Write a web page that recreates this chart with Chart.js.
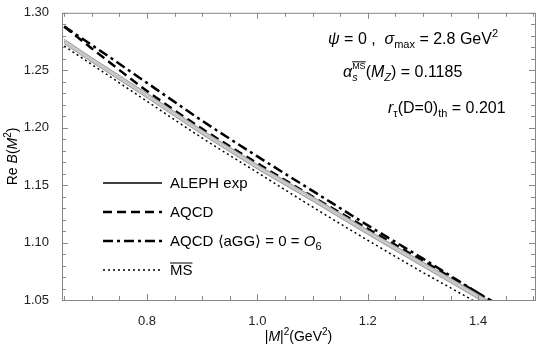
<!DOCTYPE html>
<html>
<head>
<meta charset="utf-8">
<script src="https://cdn.jsdelivr.net/npm/chart.js@4"></script>
<style>
  html, body { margin: 0; padding: 0; background: #fff; }
  #wrap { width: 542px; height: 355px; }
</style>
</head>
<body>
<div id="wrap"><canvas id="reB"></canvas></div>
<script>
// values
const xValues   = [0.65, 0.70, 0.80, 0.90, 1.00, 1.10, 1.20, 1.30, 1.40, 1.50];
const alephExp  = [1.275, 1.259, 1.228, 1.196, 1.166, 1.138, 1.109, 1.081, 1.053, 1.024];
const alephLow  = [1.273, 1.257, 1.226, 1.194, 1.164, 1.136, 1.107, 1.079, 1.051, 1.022];
const alephHigh = [1.277, 1.261, 1.230, 1.198, 1.168, 1.140, 1.111, 1.083, 1.055, 1.026];
const aqcd      = [1.288, 1.269, 1.232, 1.199, 1.169, 1.140, 1.112, 1.084, 1.056, 1.028];
const aqcdO6    = [1.288, 1.272, 1.239, 1.206, 1.175, 1.145, 1.115, 1.086, 1.056, 1.027];
const msbar     = [1.271, 1.255, 1.223, 1.191, 1.161, 1.131, 1.102, 1.074, 1.047, 1.018];
const xTickLabels = [0.8, 1.0, 1.2, 1.4];
const yTickLabels = [1.05, 1.10, 1.15, 1.20, 1.25, 1.30];

const FONT = '"Liberation Sans", Arial, sans-serif';

function pts(ys) {
    return xValues.map((x, i) => ({ x: x, y: ys[i] }));
}

// draw a row of mixed-style text pieces, returns width
function rich(ctx, x, y, segs, measureOnly) {
    let cx = x;
    segs.forEach(s => {
        ctx.font = (s.it ? 'italic ' : '') + (s.size || 15) + 'px ' + FONT;
        const w = ctx.measureText(s.t).width;
        if (!measureOnly) {
            ctx.fillText(s.t, cx, y + (s.dy || 0));
            if (s.over) {
                ctx.beginPath();
                ctx.lineWidth = 1;
                const top = y + (s.dy || 0) - (s.size || 15) * 0.8;
                ctx.moveTo(cx, top);
                ctx.lineTo(cx + w, top);
                ctx.stroke();
            }
        }
        if (!s.noAdvance) cx += w;
    });
    return cx - x;
}

const decor = {
    id: 'decor',
    afterDraw(chart) {
        const ctx = chart.ctx;
        const a = chart.chartArea;
        const xs = chart.scales.x, ys = chart.scales.y;
        ctx.save();
        ctx.strokeStyle = '#888';
        ctx.lineWidth = 1;
        ctx.strokeRect(a.left + 0.5, a.top + 0.5, a.right - a.left, a.bottom - a.top);

        // inward ticks on all four sides
        ctx.beginPath();
        for (let k = 13; k <= 30; k++) {
            const v = k * 0.05;
            if (v < xs.min || v > xs.max) continue;
            const px = Math.round(xs.getPixelForValue(v)) + 0.5;
            const len = (k % 4 === 0) ? 6 : 4;
            ctx.moveTo(px, a.bottom); ctx.lineTo(px, a.bottom - len);
            ctx.moveTo(px, a.top); ctx.lineTo(px, a.top + len);
        }
        for (let k = 105; k <= 130; k++) {
            const py = Math.round(ys.getPixelForValue(k / 100)) + 0.5;
            const len = (k % 5 === 0) ? 6 : 4;
            ctx.moveTo(a.left, py); ctx.lineTo(a.left + len, py);
            ctx.moveTo(a.right, py); ctx.lineTo(a.right - len, py);
        }
        ctx.stroke();

        // annotations top right
        ctx.fillStyle = '#000';
        ctx.strokeStyle = '#000';
        ctx.textBaseline = 'alphabetic';
        rich(ctx, 328, 44, [
            { t: '\u03C8', it: true, size: 16 }, { t: ' = 0 ,  ', size: 16 },
            { t: '\u03C3', it: true, size: 16 }, { t: 'max', size: 11, dy: 4 },
            { t: ' = 2.8 GeV', size: 16 }, { t: '2', size: 11, dy: -7 }
        ]);
        rich(ctx, 343, 77, [
            { t: '\u03B1', it: true, size: 16 }, { t: 's', it: true, size: 11, dy: 4, noAdvance: true },
            { t: 'MS', size: 9, dy: -8, over: true }, { t: '(', size: 16 },
            { t: 'M', it: true, size: 16 }, { t: 'Z', it: true, size: 11, dy: 4 },
            { t: ') = 0.1185', size: 16 }
        ]);
        rich(ctx, 388, 113, [
            { t: 'r', it: true, size: 16 }, { t: '\u03C4', size: 11, dy: 4 },
            { t: '(D=0)', size: 16 }, { t: 'th', size: 11, dy: 4 },
            { t: ' = 0.201', size: 16 }
        ]);

        // legend
        const rows = [
            { dash: [], w: 1.5, segs: [{ t: 'ALEPH exp' }] },
            { dash: [9, 5], w: 2.5, segs: [{ t: 'AQCD' }] },
            { dash: [10, 4, 3, 4], w: 2.5, segs: [{ t: 'AQCD \u27E8aGG\u27E9 = 0 = ' }, { t: 'O', it: true }, { t: '6', size: 11, dy: 4 }] },
            { dash: [2, 3], w: 1.5, segs: [{ t: 'MS', over: true }] }
        ];
        const rowY = [183, 212, 241, 270];
        rows.forEach((r, i) => {
            ctx.beginPath();
            ctx.setLineDash(r.dash);
            ctx.lineWidth = r.w;
            ctx.moveTo(103, rowY[i]); ctx.lineTo(162, rowY[i]);
            ctx.stroke();
            ctx.setLineDash([]);
            rich(ctx, 170, rowY[i] + 5, r.segs);
        });

        // axis titles
        const xt = [
            { t: '|', size: 14 }, { t: 'M', it: true, size: 14 }, { t: '|', size: 14 },
            { t: '2', size: 10, dy: -6 }, { t: '(GeV', size: 14 }, { t: '2', size: 10, dy: -6 }, { t: ')', size: 14 }
        ];
        const xw = rich(ctx, 0, 0, xt, true);
        rich(ctx, (a.left + a.right) / 2 - xw / 2, 341, xt);

        const yt = [
            { t: 'Re ', size: 14 }, { t: 'B', it: true, size: 14 }, { t: '(', size: 14 },
            { t: 'M', it: true, size: 14 }, { t: '2', size: 10, dy: -6 }, { t: ')', size: 14 }
        ];
        const yw = rich(ctx, 0, 0, yt, true);
        ctx.translate(17, (a.top + a.bottom) / 2);
        ctx.rotate(-Math.PI / 2);
        rich(ctx, -yw / 2, 0, yt);
        ctx.restore();
    }
};

new Chart(document.getElementById('reB'), {
    type: 'line',
    data: {
        datasets: [{
            label: 'band low',
            data: pts(alephLow),
            borderColor: '#8a8a8a',
            borderWidth: 0.8,
            pointRadius: 0,
            fill: false
        }, {
            label: 'band high',
            data: pts(alephHigh),
            borderColor: '#8a8a8a',
            borderWidth: 0.8,
            backgroundColor: '#c8c8c8',
            pointRadius: 0,
            fill: '-1'
        }, {
            label: 'MS',
            data: pts(msbar),
            borderColor: '#000',
            borderWidth: 1.5,
            borderDash: [2, 3],
            pointRadius: 0,
            cubicInterpolationMode: 'monotone'
        }, {
            label: 'AQCD',
            data: pts(aqcd),
            borderColor: '#000',
            borderWidth: 2.5,
            borderDash: [9, 5],
            pointRadius: 0,
            cubicInterpolationMode: 'monotone'
        }, {
            label: 'AQCD O6',
            data: pts(aqcdO6),
            borderColor: '#000',
            borderWidth: 2.5,
            borderDash: [10, 4, 3, 4],
            pointRadius: 0,
            cubicInterpolationMode: 'monotone'
        }, {
            label: 'ALEPH exp',
            data: pts(alephExp),
            borderColor: '#000',
            borderWidth: 1.3,
            pointRadius: 0,
            cubicInterpolationMode: 'monotone'
        }]
    },
    options: {
        responsive: true,
        maintainAspectRatio: false,
        animation: false,
        layout: { padding: { left: 0, right: 7, top: 8, bottom: 0 } },
        plugins: {
            legend: { display: false },
            tooltip: { enabled: false }
        },
        scales: {
            x: {
                type: 'linear',
                min: 0.646,
                max: 1.503,
                grid: { display: false },
                border: { display: false },
                afterBuildTicks: s => { s.ticks = xTickLabels.map(v => ({ value: v })); },
                afterFit: s => { s.height = 55; },
                ticks: {
                    color: '#222',
                    font: { family: FONT, size: 13 },
                    padding: 6,
                    maxRotation: 0,
                    callback: v => v.toFixed(1)
                }
            },
            y: {
                type: 'linear',
                min: 1.05,
                max: 1.30,
                grid: { display: false },
                border: { display: false },
                afterBuildTicks: s => { s.ticks = yTickLabels.map(v => ({ value: v })); },
                afterFit: s => { s.width = 62; },
                ticks: {
                    color: '#222',
                    font: { family: FONT, size: 13 },
                    padding: 5,
                    callback: v => v.toFixed(2)
                }
            }
        }
    },
    plugins: [decor]
});
</script>
</body>
</html>
